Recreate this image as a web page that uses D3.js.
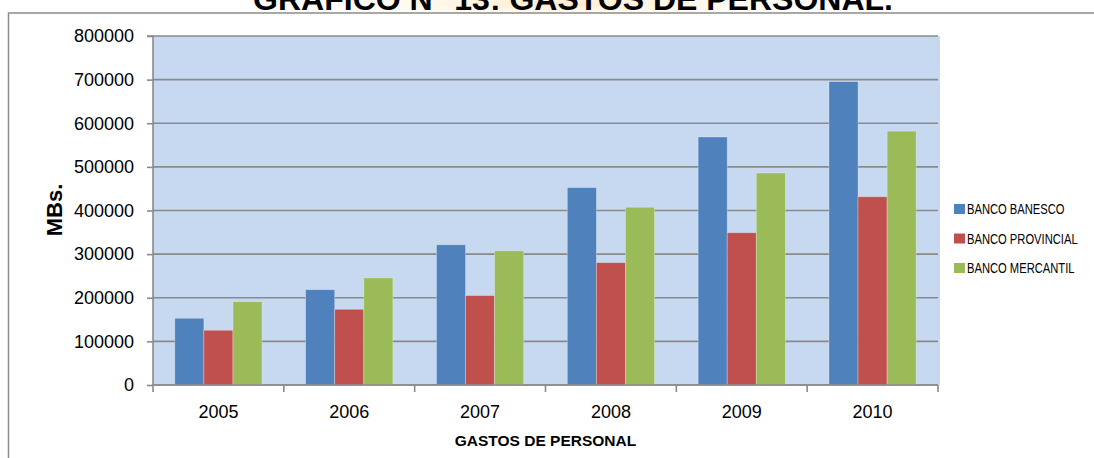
<!DOCTYPE html>
<html>
<head>
<meta charset="utf-8">
<script src="https://cdn.jsdelivr.net/npm/d3@7/dist/d3.min.js"></script>
<style>
html,body{margin:0;padding:0;background:#fff;}
svg{display:block;}
</style>
</head>
<body>
<svg id="chart" width="1094" height="458"></svg>
<script>
const years = ["2005","2006","2007","2008","2009","2010"];
const seriesNames = ["BANCO BANESCO","BANCO PROVINCIAL","BANCO MERCANTIL"];
const banesco = [153000, 218500, 321500, 452500, 568500, 695500];
const provincial = [125500, 173500, 205000, 280500, 349000, 431500];
const mercantil = [191000, 245500, 307500, 407500, 486000, 582000];
const yTicks = [0,100000,200000,300000,400000,500000,600000,700000,800000];
const colors = ["#4F81BD","#C0504D","#9BBB59"];
const title = "GRAFICO N° 13: GASTOS DE PERSONAL.";
const xTitle = "GASTOS DE PERSONAL";
const yTitle = "MBs.";

const seriesValues = [banesco, provincial, mercantil];
const svg = d3.select("#chart");

const plot = {left:153, right:938, top:36, bottom:385};

// title glow
const defs = svg.append("defs");
const rg = defs.append("radialGradient").attr("id","glow");
rg.append("stop").attr("offset","0%").attr("stop-color","#ffd9a0").attr("stop-opacity",0.55);
rg.append("stop").attr("offset","100%").attr("stop-color","#fff3d0").attr("stop-opacity",0);
svg.append("ellipse").attr("cx",560).attr("cy",4).attr("rx",280).attr("ry",14).attr("fill","url(#glow)");

// title (cut at top, as in the reference)
svg.append("text").attr("x",573).attr("y",10).attr("text-anchor","middle")
  .attr("font-family","Liberation Sans, Arial, sans-serif").attr("font-weight","bold")
  .attr("font-size",32).attr("fill","#000").text(title);

// outer frame
svg.append("rect").attr("x",8.5).attr("y",13).attr("width",1100).attr("height",500)
  .attr("fill","none").attr("stroke","#8c8c8c").attr("stroke-width",1.5);

const y = d3.scaleLinear().domain([0,800000]).range([plot.bottom, plot.top]);
const x = d3.scaleBand().domain(years).range([plot.left, plot.right]).padding(0);
const xs = d3.scaleBand().domain(seriesNames).range([0, x.bandwidth()]).paddingInner(0).paddingOuter(0.75);

// plot background
svg.append("rect").attr("x",plot.left).attr("y",plot.top)
  .attr("width",plot.right - plot.left + 2).attr("height",plot.bottom - plot.top)
  .attr("fill","#C6D9F0");

// gridlines
svg.append("g").selectAll("line").data(yTicks).join("line")
  .attr("x1",plot.left).attr("x2",plot.right)
  .attr("y1",d=>y(d)).attr("y2",d=>y(d))
  .attr("stroke","#8a8a8a").attr("stroke-width",1.6);

// bars
const gs = svg.append("g").selectAll("g").data(seriesNames).join("g")
  .attr("fill",(d,i)=>colors[i]);
gs.each(function(s,si){
  d3.select(this).selectAll("rect").data(years).join("rect")
    .attr("x",yr=>x(yr)+xs(s))
    .attr("y",(yr,i)=>y(seriesValues[si][i]))
    .attr("width",xs.bandwidth())
    .attr("height",(yr,i)=>y(0)-y(seriesValues[si][i]))
    .attr("stroke","rgba(255,255,255,0.35)").attr("stroke-width",0.8);
});

// y axis
const yAxis = d3.axisLeft(y).tickValues(yTicks).tickFormat(d3.format("d")).tickSize(6).tickPadding(13);
const ga = svg.append("g").attr("transform",`translate(${plot.left},0)`).call(yAxis);
ga.select(".domain").attr("stroke","#8a8a8a").attr("stroke-width",1.6).attr("d",`M-6,${plot.top}H0V${plot.bottom}`);
ga.selectAll(".tick line").attr("stroke","#8a8a8a").attr("stroke-width",1.6);
ga.selectAll("text").attr("font-family","Liberation Sans, Arial, sans-serif").attr("font-size",18).attr("fill","#000");

// x axis
const gx = svg.append("g").attr("transform",`translate(0,${plot.bottom})`);
gx.append("line").attr("x1",plot.left).attr("x2",plot.right).attr("stroke","#8a8a8a").attr("stroke-width",1.6);
const bounds = years.map(yr=>x(yr)).concat([plot.right]);
gx.selectAll("line.tk").data(bounds).join("line").attr("class","tk")
  .attr("x1",d=>d).attr("x2",d=>d).attr("y1",0).attr("y2",7)
  .attr("stroke","#8a8a8a").attr("stroke-width",1.6);
gx.selectAll("text").data(years).join("text")
  .attr("x",d=>x(d)+x.bandwidth()/2).attr("y",33).attr("text-anchor","middle")
  .attr("font-family","Liberation Sans, Arial, sans-serif").attr("font-size",18).attr("fill","#000")
  .text(d=>d);

// axis titles
svg.append("text").attr("x",(plot.left+plot.right)/2).attr("y",446).attr("text-anchor","middle")
  .attr("font-family","Liberation Sans, Arial, sans-serif").attr("font-weight","bold").attr("font-size",15.5)
  .text(xTitle);
svg.append("text").attr("transform","translate(62,210) rotate(-90)").attr("text-anchor","middle")
  .attr("font-family","Liberation Sans, Arial, sans-serif").attr("font-weight","bold").attr("font-size",22)
  .text(yTitle);

// legend
const legY = [209, 238.5, 268];
const lg = svg.append("g").selectAll("g").data(seriesNames).join("g")
  .attr("transform",(d,i)=>`translate(954,${legY[i]})`);
lg.append("rect").attr("x",0).attr("y",-5).attr("width",11).attr("height",10).attr("fill",(d,i)=>colors[i]);
lg.append("text").attr("transform","translate(13,0) scale(0.8,1)").attr("dy","0.36em")
  .attr("font-family","Liberation Sans, Arial, sans-serif").attr("font-size",14)
  .attr("fill","#000").text(d=>d);
</script>
</body>
</html>
